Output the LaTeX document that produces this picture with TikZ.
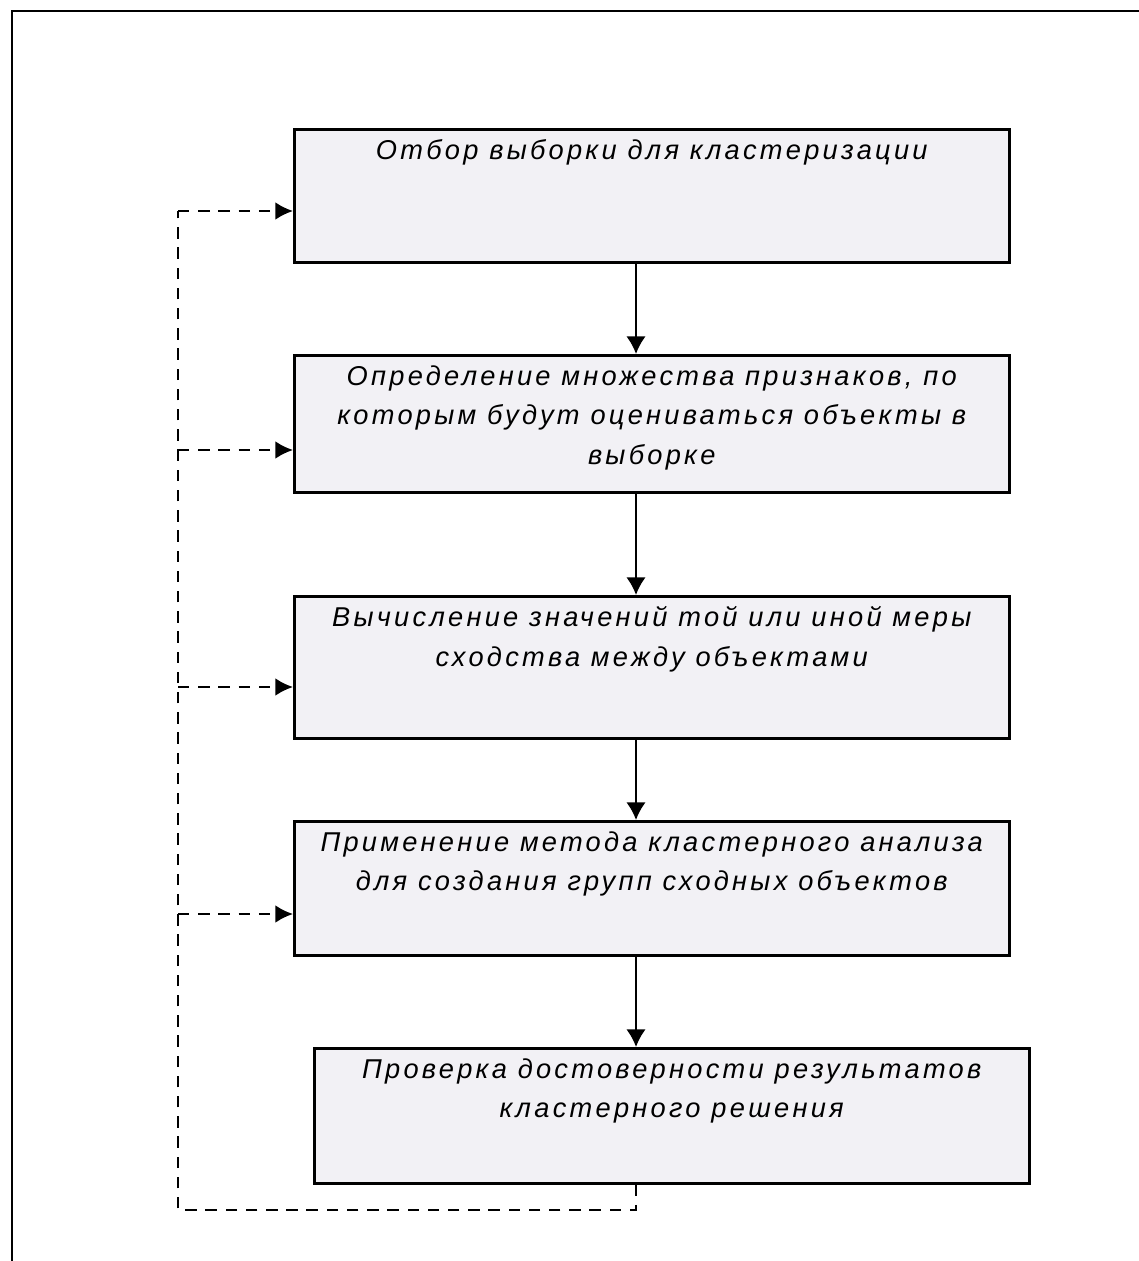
\documentclass[tikz,border=0pt]{standalone}
\usepackage{fontspec}
\setmainfont{Liberation Sans}
\newfontfamily\stepfont{Liberation Sans}[LetterSpace=12]
\usetikzlibrary{calc, positioning, arrows.meta}
\def\boxwidth{14.3cm}
\def\flowx{636}
\def\loopx{178}
\def\loopy{1210}
\def\textgap{11}
\def\boxdrawcolor{black}
\definecolor{boxfillcolor}{RGB}{242,241,245}
\tikzset{
	% labels
	step_label/.style={
		font=\stepfont\itshape\fontsize{15.5}{22.5}\selectfont,
		align=center,
		inner sep=0,
		anchor=north,
	},
	% outer frame
	frame/.style={
		draw=black,
		line width=1.6pt,
	},
	% steps
	step_box/.style={
		draw=\boxdrawcolor,
		fill=boxfillcolor,
		line width=1.5pt,
		shape=rectangle,
		minimum width=\boxwidth,
		anchor=north west,
		inner sep=0,
	},
	% connections
	connection/.style={
		line width=1.2pt,
		-{Latex[length=10pt, width=11pt]},
	},
	% feedback loop
	feedback/.style={
		line width=1.2pt,
		dash pattern=on 6.5pt off 5pt,
	},
	feedback_arrow/.style={
		feedback,
		-{Latex[length=10pt, width=10pt]},
	}
}

\begin{document}
\begin{tikzpicture}[x=0.02cm, y=-0.02cm]
		\useasboundingbox (0,0) rectangle (1139,1261);
		% Frame
		\draw[frame] (12,1300) -- (12,11) -- (1200,11);

		% Steps
		\node[
			step_box,
			minimum height=2.66cm,
		] (selection) at (293,128) {};
		\node[
			step_box,
			minimum height=2.74cm,
		] (features) at (293,354) {};
		\node[
			step_box,
			minimum height=2.84cm,
		] (similarity) at (293,595) {};
		\node[
			step_box,
			minimum height=2.68cm,
		] (clustering) at (293,820) {};
		\node[
			step_box,
			minimum height=2.7cm,
		] (validation) at (313,1047) {};

		%% Step texts
		\node[
			step_label,
			shift={(0,\textgap)},
		] (selection_text) at (selection.north) {Отбор выборки для кластеризации};
		\node[
			step_label,
			shift={(0,\textgap)},
		] (features_text) at (features.north) {Определение множества признаков, по\\которым будут оцениваться объекты в\\выборке};
		\node[
			step_label,
			shift={(0,\textgap)},
		] (similarity_text) at (similarity.north) {Вычисление значений той или иной меры\\сходства между объектами};
		\node[
			step_label,
			shift={(0,\textgap)},
		] (clustering_text) at (clustering.north) {Применение метода кластерного анализа\\для создания групп сходных объектов};
		\node[
			step_label,
			shift={(0,\textgap)},
		] (validation_text) at (validation.north) {Проверка достоверности результатов\\кластерного решения};

		% Connections
		\coordinate (flow) at (\flowx,0);
		\draw[connection] (selection.south-|flow) -- (features.north-|flow);
		\draw[connection] (features.south-|flow) -- (similarity.north-|flow);
		\draw[connection] (similarity.south-|flow) -- (clustering.north-|flow);
		\draw[connection] (clustering.south-|flow) -- (validation.north-|flow);

		% Feedback loop
		\coordinate (loop_bottom) at (\loopx,\loopy);
		\coordinate (loop_top) at (\loopx,211);
		\draw[feedback] (validation.south-|flow) -- (flow|-loop_bottom) -- (loop_bottom) -- (loop_top);
		\foreach \name/\y in {selection/211, features/450, similarity/687, clustering/914} {
			\coordinate (loop_\name) at (\loopx,\y);
			\draw[feedback_arrow] (loop_\name) -- (loop_\name-|\name.west);
		}
	\end{tikzpicture}
\end{document}
